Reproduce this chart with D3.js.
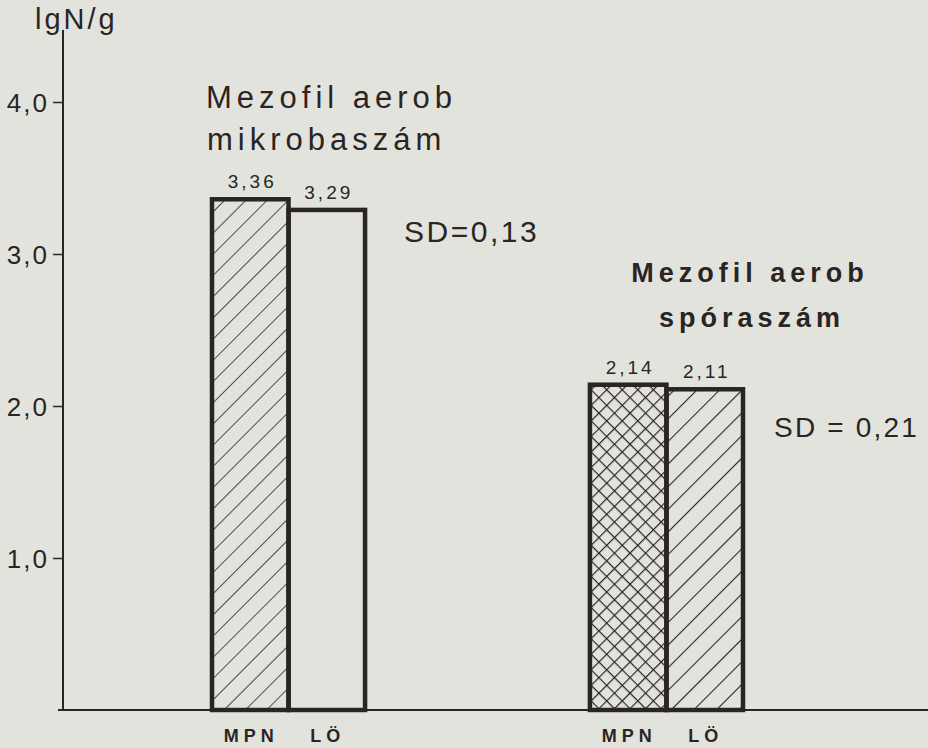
<!DOCTYPE html>
<html>
<head>
<meta charset="utf-8">
<script src="https://cdn.jsdelivr.net/npm/d3@7"></script>
<style>
  body { margin: 0; background: #e3e3dd; }
  svg { display: block; font-family: "Liberation Sans", Arial, sans-serif; }
</style>
</head>
<body>
<svg id="chart" width="928" height="748"></svg>
<script>
// data
const groups = ['mikroba', 'spora'];
const groupTitles = [['Mezofil aerob', 'mikrobaszám'], ['Mezofil aerob', 'spóraszám']];
const methods = ['MPN', 'LÖ'];
const values = [[3.36, 3.29], [2.14, 2.11]];
const valueLabels = [['3,36', '3,29'], ['2,14', '2,11']];
const sdLabels = ['SD=0,13', 'SD = 0,21'];
const yTicks = [1, 2, 3, 4];
const yTickLabels = ['1,0', '2,0', '3,0', '4,0'];
const fills = [['url(#hatch1)', 'none'], ['url(#cross)', 'url(#hatch2)']];

const ink = '#2a2522';
const svg = d3.select('#chart');

// patterns
const defs = svg.append('defs');
function hatch(id, size, width) {
    const p = defs.append('pattern')
        .attr('id', id)
        .attr('patternUnits', 'userSpaceOnUse')
        .attr('width', size).attr('height', size)
        .attr('patternTransform', 'rotate(45)');
    p.append('line')
        .attr('x1', 0).attr('y1', 0).attr('x2', 0).attr('y2', size)
        .attr('stroke', ink).attr('stroke-width', width);
    return p;
}
hatch('hatch1', 15, 1.6);
hatch('hatch2', 16, 2.2);
const cp = hatch('cross', 11, 2.4);
cp.append('line')
    .attr('x1', 0).attr('y1', 0).attr('x2', 11).attr('y2', 0)
    .attr('stroke', ink).attr('stroke-width', 2.4);

const y = d3.scaleLinear().domain([0, 4]).range([710, 102]);
const x0 = d3.scaleBand().domain(groups).range([212, 743]).paddingInner(0.595).paddingOuter(0);
const x1 = d3.scaleBand().domain(methods).range([0, x0.bandwidth()]);

// baseline
svg.append('line')
    .attr('x1', 58).attr('x2', 928)
    .attr('y1', y(0)).attr('y2', y(0))
    .attr('stroke', ink).attr('stroke-width', 2);

// y axis
const yAxis = d3.axisLeft(y)
    .tickValues(yTicks)
    .tickFormat((d, i) => yTickLabels[i])
    .tickSize(10)
    .tickPadding(4);
const ya = svg.append('g')
    .attr('transform', 'translate(63,0)')
    .call(yAxis);
ya.select('.domain').remove();
ya.selectAll('.tick line').attr('stroke', ink).attr('stroke-width', 1.5);
ya.selectAll('.tick text')
    .attr('fill', ink)
    .attr('font-family', null)
    .style('font-size', '26px')
    .style('letter-spacing', '2px')
    .attr('dy', '0.36em');
svg.append('line')
    .attr('x1', 63).attr('x2', 63)
    .attr('y1', 30).attr('y2', y(0))
    .attr('stroke', ink).attr('stroke-width', 2);

svg.append('text')
    .attr('x', 35).attr('y', 29)
    .attr('fill', ink)
    .style('font-size', '29px')
    .style('letter-spacing', '3px')
    .text('lgN/g');

// bars
groups.forEach((g, gi) => {
    const gx = x0(g);
    methods.forEach((m, mi) => {
        const v = values[gi][mi];
        const bx = gx + x1(m);
        svg.append('rect')
            .attr('x', bx).attr('y', y(v))
            .attr('width', x1.bandwidth()).attr('height', y(0) - y(v))
            .attr('fill', fills[gi][mi])
            .attr('stroke', ink).attr('stroke-width', 4.5);
        svg.append('text')
            .attr('x', bx + x1.bandwidth() / 2 + 2)
            .attr('y', y(v) - 11)
            .attr('text-anchor', 'middle')
            .attr('fill', ink)
            .style('font-size', '19px')
            .style('letter-spacing', '3px')
            .text(valueLabels[gi][mi]);
        svg.append('text')
            .attr('x', bx + x1.bandwidth() / 2 + 1)
            .attr('y', 742)
            .attr('text-anchor', 'middle')
            .attr('fill', ink)
            .style('font-size', '18px')
            .style('font-weight', 'bold')
            .style('letter-spacing', '5px')
            .text(m);
    });
});

// group titles
const t1 = svg.append('text').attr('fill', ink)
    .style('font-size', '31px').style('letter-spacing', '5px');
t1.append('tspan').attr('x', 206).attr('y', 108).text(groupTitles[0][0]);
t1.append('tspan').attr('x', 207).attr('y', 150).text(groupTitles[0][1]);

const t2 = svg.append('text').attr('fill', ink)
    .attr('text-anchor', 'middle')
    .style('font-size', '27px').style('font-weight', 'bold')
    .style('letter-spacing', '5px');
t2.append('tspan').attr('x', 750).attr('y', 282).text(groupTitles[1][0]);
t2.append('tspan').attr('x', 752).attr('y', 327).text(groupTitles[1][1]);

// SD labels
svg.append('text')
    .attr('x', 404).attr('y', 242)
    .attr('fill', ink)
    .style('font-size', '30px')
    .style('letter-spacing', '2.5px')
    .text(sdLabels[0]);
svg.append('text')
    .attr('x', 774).attr('y', 437)
    .attr('fill', ink)
    .style('font-size', '28px')
    .style('letter-spacing', '2.2px')
    .text(sdLabels[1]);
</script>
</body>
</html>
